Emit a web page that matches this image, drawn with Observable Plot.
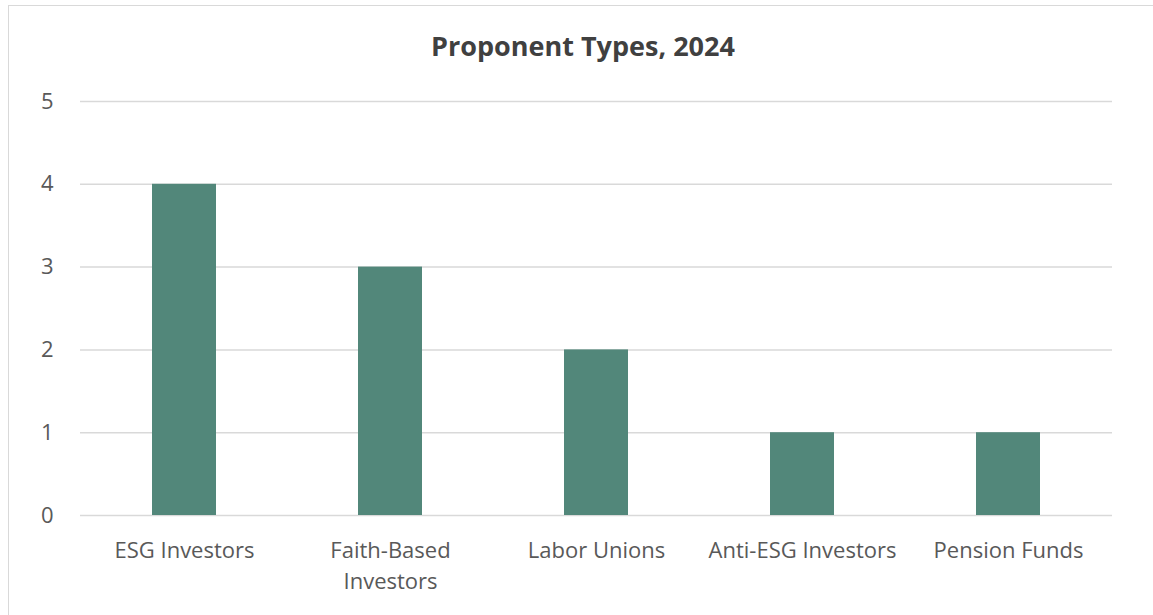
<!DOCTYPE html>
<html><head><meta charset="utf-8">
<script src="https://cdn.jsdelivr.net/npm/d3@7"></script>
<script src="https://cdn.jsdelivr.net/npm/@observablehq/plot@0.6"></script>
<style>
html,body{margin:0;padding:0;background:#fff;overflow:hidden;}
#frame{position:absolute;left:8px;top:5px;width:1150px;height:620px;border:1px solid #d9d9d9;box-sizing:border-box;}
#title{position:absolute;left:8px;top:27px;width:1150px;text-align:center;font-family:"Open Sans",sans-serif;font-weight:bold;font-size:27px;color:#404040;line-height:38px;}
#chart{position:absolute;left:0;top:75px;}
</style></head><body>
<div id="frame"></div>
<div id="title">Proponent Types, 2024</div>
<div id="chart"></div>
<script>
const categories = ["ESG Investors","Faith-Based Investors","Labor Unions","Anti-ESG Investors","Pension Funds"];
const tickLabels = ["ESG Investors","Faith-Based\nInvestors","Labor Unions","Anti-ESG Investors","Pension Funds"];
const values = [4,3,2,1,1];
const yTicks = [0,1,2,3,4,5];
const data = categories.map((c,i)=>({category:c, value:values[i]}));
const labelOf = new Map(categories.map((c,i)=>[c,tickLabels[i]]));
const plot = Plot.plot({
  width:1153, height:540,
  marginLeft:80, marginRight:41, marginTop:26, marginBottom:100,
  style:{fontFamily:"'Open Sans',sans-serif", fontSize:"22px", color:"#595959", background:"transparent"},
  x:{domain:categories, paddingInner:0.69, paddingOuter:0.345, label:null},
  y:{domain:[0,5], label:null},
  marks:[
    Plot.gridY(yTicks,{stroke:"#d9d9d9", strokeOpacity:1, strokeWidth:1.5}),
    Plot.barY(data,{x:"category", y:"value", fill:"#52877a"}),
    Plot.axisY(yTicks,{tickSize:0, tickPadding:27, fontSize:22, fill:"#595959", tickFormat:d3.format("d"), label:null}),
    Plot.axisX({tickSize:0, tickPadding:21, fontSize:22, fill:"#595959", lineHeight:1.4, tickFormat:d=>labelOf.get(d), label:null})
  ]
});
document.getElementById("chart").appendChild(plot);
</script>
</body></html>
